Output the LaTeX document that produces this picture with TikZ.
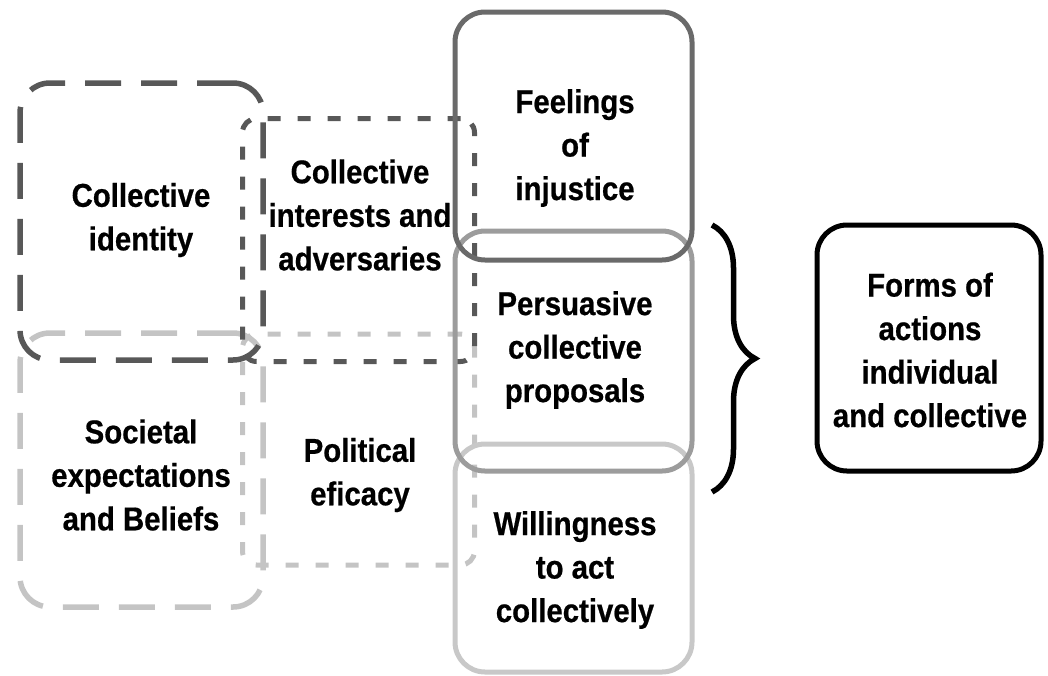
\documentclass[tikz,border=0pt]{standalone}
\usepackage{fontspec}
\setmainfont[FakeStretch=0.89,BoldFeatures={FakeBold=0.6}]{Liberation Sans}
\usetikzlibrary{decorations.pathreplacing}
\definecolor{dk}{HTML}{585858}
\definecolor{lt}{HTML}{C4C4C4}
\definecolor{feel}{HTML}{6A6A6A}
\definecolor{pers}{HTML}{9C9C9C}
\definecolor{will}{HTML}{C8C8C8}
\begin{document}
\begin{tikzpicture}[x=1pt,y=-1pt,
  txt/.style={font=\bfseries\fontsize{33}{43.5}\selectfont, align=center, inner sep=0pt},
  longdash/.style={line width=5.5pt, dash pattern=on 36pt off 20pt, rounded corners=30pt},
  shortdash/.style={line width=5pt, dash pattern=on 13pt off 17pt, rounded corners=14pt},
  solidbox/.style={line width=5pt, rounded corners=30pt, inner sep=0pt},
]
\useasboundingbox (0,0) rectangle (1048,675);
% dashed boxes
\node[draw=lt, longdash, inner sep=0pt, minimum width=243pt, minimum height=274pt] (b2) at (141.5,470) {};
\node[draw=lt, shortdash, inner sep=0pt, minimum width=232pt, minimum height=231pt] (b4) at (358.5,449.5) {};
\node[draw=dk, longdash, inner sep=0pt, minimum width=243pt, minimum height=277pt] (b1) at (141.5,221.5) {};
\node[draw=dk, shortdash, inner sep=0pt, minimum width=232pt, minimum height=243pt] (b3) at (358.5,240) {};
% solid boxes
\node[draw=will, solidbox, minimum width=237pt, minimum height=228pt] (b7) at (573.5,558) {};
\node[draw=pers, solidbox, minimum width=237pt, minimum height=240pt] (b6) at (573.5,351) {};
\node[draw=feel, solidbox, minimum width=237pt, minimum height=248pt] (b5) at (573.5,136) {};
\node[draw=black, solidbox, minimum width=224pt, minimum height=246pt] (b8) at (929,348) {};
% texts
\node[txt] (t1) at (141,220) {Collective\\identity};
\node[txt] (t2) at (141,475) {Societal\\expectations\\and Beliefs};
\node[txt] (t3) at (360,215) {Collective\\interests and\\adversaries};
\node[txt] (t4) at (360,475) {Political\\eficacy};
\node[txt] (t5) at (575,148) {Feelings\\of\\injustice};
\node[txt] (t6) at (575,350) {Persuasive\\collective\\proposals};
\node[txt] (t7) at (575,570) {Willingness\\to act\\collectively};
\node[txt] (t8) at (930,350) {Forms of\\actions\\individual\\and collective};
% brace
\coordinate (bt) at (712,225);
\coordinate (bb) at (712,492);
\draw[line width=5.5pt, decorate, decoration={brace, amplitude=43pt}] (bt) -- (bb);
\end{tikzpicture}
\end{document}
